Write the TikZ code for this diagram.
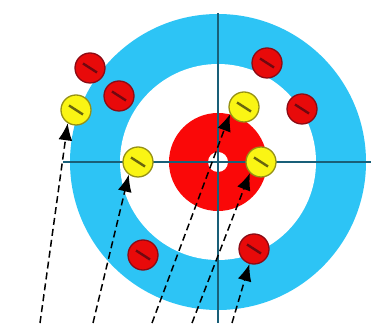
\documentclass[tikz,border=0pt]{standalone}
\usetikzlibrary{arrows.meta}
\definecolor{RingClr}{RGB}{45,196,245}
\definecolor{ButtonClr}{RGB}{250,8,8}
\definecolor{LineClr}{RGB}{25,95,120}
\definecolor{RedClr}{RGB}{232,10,10}
\definecolor{RedEdge}{RGB}{140,10,20}
\definecolor{YellowClr}{RGB}{250,245,20}
\definecolor{YellowEdge}{RGB}{150,145,20}

\tikzset{
  stone/.style={circle,minimum size=30pt,inner sep=0pt,line width=1.3pt},
  redstone/.style={stone,fill=RedClr,draw=RedEdge,
    path picture={\draw[RedEdge!80!black,line width=2.4pt]
      (path picture bounding box.center) +(-7,4.5) -- +(7,-4.5);}},
  yellowstone/.style={stone,fill=YellowClr,draw=YellowEdge,
    path picture={\draw[YellowEdge!70!black,line width=2.4pt]
      (path picture bounding box.center) +(-7,4.5) -- +(7,-4.5);}},
  throw/.style={dash pattern=on 7pt off 4pt,line width=1.5pt,
    -{Latex[length=17pt,width=14pt]}}
}

\begin{document}
\begin{tikzpicture}[x=1pt,y=1pt]
\useasboundingbox (0,0) rectangle (371,323);

% house
\coordinate (C) at (218,161);
\fill[RingClr] (C) circle (148);
\fill[white] (C) circle (98);
\fill[ButtonClr] (C) circle (49);
\fill[white] (C) circle (10);

% centre lines
\coordinate (H1) at (63,161);
\coordinate (H2) at (371,161);
\coordinate (V1) at (218,310);
\coordinate (V2) at (218,0);
\draw[LineClr,line width=1.6pt] (H1) -- (H2);
\draw[LineClr,line width=1.6pt] (V1) -- (V2);

% stones
\node[redstone] (R1) at (90,255) {};
\node[redstone] (R2) at (119,227) {};
\node[redstone] (R3) at (267,260) {};
\node[redstone] (R4) at (302,214) {};
\node[redstone] (R5) at (143,68) {};
\node[redstone] (R6) at (254,74) {};

\node[yellowstone] (Y1) at (76,213) {};
\node[yellowstone] (Y2) at (138,161) {};
\node[yellowstone] (Y3) at (244,216) {};
\node[yellowstone] (Y4) at (261,161) {};

% throws
\coordinate (S1) at (40,0);
\coordinate (S2) at (93,0);
\coordinate (S3) at (152,0);
\coordinate (S4) at (192,0);
\coordinate (S5) at (232,0);

\draw[throw] (S1) -- (Y1.238);
\draw[throw] (S2) -- (Y2.234);
\draw[throw] (S3) -- (Y3.207);
\draw[throw] (S4) -- (Y4.225);
\draw[throw] (S5) -- (R6.253);

\end{tikzpicture}
\end{document}
